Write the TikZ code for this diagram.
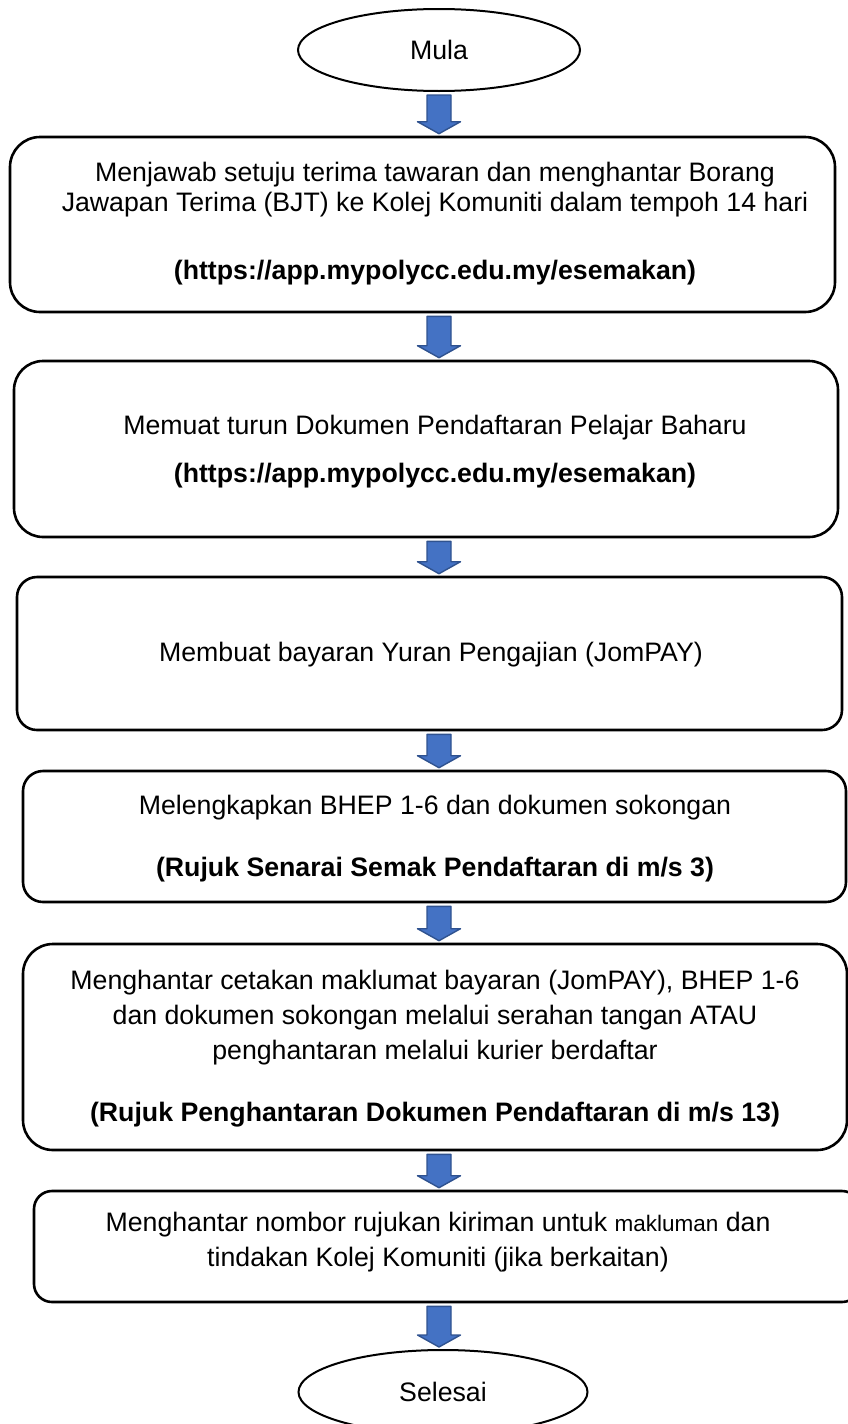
\documentclass[tikz,border=0pt]{standalone}
\usepackage{fontspec}
\setmainfont{Liberation Sans}
\usetikzlibrary{shapes.geometric,calc}
\definecolor{arrowfill}{HTML}{4472C4}
\definecolor{arrowline}{HTML}{2F528F}
\newcommand{\flowarrow}[2]{%
  \filldraw[blockarrow] let \p1=(#1.south -| axis), \p2=(#2.north -| axis) in
  (\x1-12pt,\y1-3pt) -- (\x1+12pt,\y1-3pt) -- (\x1+12pt,\y2+14pt) -- (\x1+21.5pt,\y2+14pt)
  -- (\x1,\y2+2pt) -- (\x1-21.5pt,\y2+14pt) -- (\x1-12pt,\y2+14pt) -- cycle;}
\begin{document}
\begin{tikzpicture}[x=1pt,y=-1pt,
  box/.style={draw=black,line width=2.6pt,inner sep=0pt},
  oval/.style={ellipse,draw=black,line width=2pt,inner sep=0pt,font=\fontsize{26.7}{30}\selectfont},
  blockarrow/.style={fill=arrowfill,draw=arrowline,line width=1.4pt,line join=round},
  txt/.style={align=center,inner sep=0pt,font=\fontsize{26.7}{30}\selectfont},
  txtwide/.style={align=center,inner sep=0pt,font=\fontsize{26.7}{35}\selectfont}]

\useasboundingbox (0,0) rectangle (848,1424);
\coordinate (axis) at (439,0);

% start / end
\node[oval, minimum width=282pt, minimum height=82pt] (start) at (439,50) {Mula};
\node[oval, minimum width=289pt, minimum height=84pt] (stop) at (443,1392) {Selesai};

% boxes
\node[box, rounded corners=30pt, minimum width=825pt, minimum height=175pt] (b1) at (422.5,224.5) {};
\node[box, rounded corners=29pt, minimum width=824pt, minimum height=176pt] (b2) at (426,449) {};
\node[box, rounded corners=20pt, minimum width=825pt, minimum height=153pt] (b3) at (429.5,653.5) {};
\node[box, rounded corners=20pt, minimum width=823pt, minimum height=131pt] (b4) at (434.5,836.5) {};
\node[box, rounded corners=30pt, minimum width=824pt, minimum height=206pt] (b5) at (435,1047) {};
\node[box, rounded corners=18pt, minimum width=826pt, minimum height=111pt] (b6) at (447,1246.5) {};

% texts
\node[txt] (t1) at (435,224) {Menjawab setuju terima tawaran dan menghantar Borang\\
Jawapan Terima (BJT) ke Kolej Komuniti dalam tempoh 14 hari\\[38pt]
\textbf{(https://app.mypolycc.edu.my/esemakan)}};
\node[txt] (t2) at (435,452) {Memuat turun Dokumen Pendaftaran Pelajar Baharu\\[18pt]
\textbf{(https://app.mypolycc.edu.my/esemakan)}};
\node[txt] (t3) at (431,655) {Membuat bayaran Yuran Pengajian (JomPAY)};
\node[txt] (t4) at (435,839) {Melengkapkan BHEP 1-6 dan dokumen sokongan\\[32pt]
\textbf{(Rujuk Senarai Semak Pendaftaran di m/s 3)}};
\node[txtwide] (t5) at (435,1049) {Menghantar cetakan maklumat bayaran (JomPAY), BHEP 1-6\\
dan dokumen sokongan melalui serahan tangan ATAU\\
penghantaran melalui kurier berdaftar\\[27pt]
\textbf{(Rujuk Penghantaran Dokumen Pendaftaran di m/s 13)}};
\node[txtwide] (t6) at (438,1242.5) {Menghantar nombor rujukan kiriman untuk {\fontsize{22.5}{35}\selectfont makluman} dan\\
tindakan Kolej Komuniti (jika berkaitan)};

% arrows
\flowarrow{start}{b1}
\flowarrow{b1}{b2}
\flowarrow{b2}{b3}
\flowarrow{b3}{b4}
\flowarrow{b4}{b5}
\flowarrow{b5}{b6}
\flowarrow{b6}{stop}
\end{tikzpicture}
\end{document}
